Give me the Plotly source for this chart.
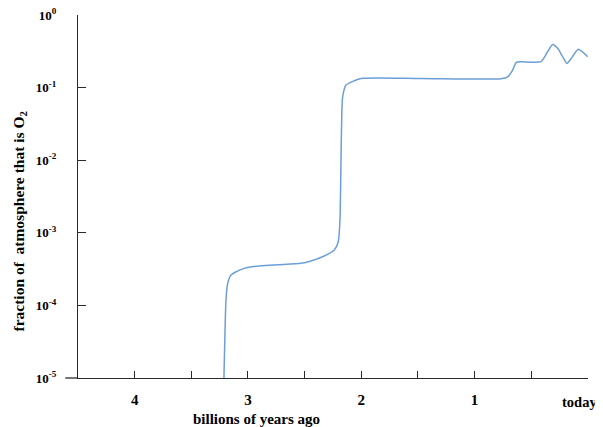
import plotly.graph_objects as go

# billions of years ago
age = [3.212, 3.203, 3.194, 3.179, 3.150, 3.121, 3.033, 2.885, 2.738, 2.532, 2.444,
       2.327, 2.238, 2.203, 2.188, 2.179, 2.171, 2.164, 2.135, 2.062, 2.003, 1.473,
       0.768, 0.708, 0.664, 0.632, 0.591, 0.415, 0.356, 0.311, 0.267, 0.223, 0.185,
       0.141, 0.085, 0.003]
# fraction of atmosphere that is O2
o2 = [1.0e-5, 4.13e-5, 1.19e-4, 2.01e-4, 2.62e-4, 2.82e-4, 3.24e-4, 3.52e-4, 3.64e-4,
      3.80e-4, 4.09e-4, 4.79e-4, 5.79e-4, 7.53e-4, 1.50e-3, 1.01e-2, 4.91e-2, 7.50e-2,
      0.1086, 0.1245, 0.134, 0.134, 0.133, 0.141, 0.175, 0.223, 0.228, 0.228, 0.312,
      0.393, 0.348, 0.267, 0.216, 0.260, 0.337, 0.267]

x_tickvals = [4, 3, 2, 1]
x_ticktext = ["4", "3", "2", "1"]
today_label = "today"
y_tickvals = [1, 1e-1, 1e-2, 1e-3, 1e-4, 1e-5]
y_ticktext = ["10<sup>0</sup>", "10<sup>-1</sup>", "10<sup>-2</sup>", "10<sup>-3</sup>",
              "10<sup>-4</sup>", "10<sup>-5</sup>"]

FONT = "Liberation Serif"
AX = "#2b2b2b"

fig = go.Figure()
fig.add_trace(go.Scatter(x=age, y=o2, mode="lines",
                         line=dict(color="#6c9fd8", width=1.5, shape="spline", smoothing=0.6),
                         showlegend=False, hoverinfo="skip"))

fig.update_layout(
    width=595, height=419,
    margin=dict(l=70, r=15, t=7, b=49, autoexpand=False),
    paper_bgcolor="white", plot_bgcolor="white",
    font=dict(family=FONT, color="black"),
    xaxis=dict(range=[4.5, -0.001], tickvals=x_tickvals, ticktext=x_ticktext,
               ticks="inside", ticklen=7, tickcolor=AX, tickwidth=1.2,
               minor=dict(tick0=0, dtick=0.5, ticks="inside", ticklen=7,
                          tickcolor=AX, tickwidth=1.2, showgrid=False),
               showline=True, linecolor=AX, linewidth=1.3, showgrid=False, zeroline=False,
               automargin=False, ticklabeloverflow="allow",
               tickfont=dict(family=FONT, size=15, color="black", weight="bold"),
               ticklabelstandoff=8),
    yaxis=dict(type="log", range=[-5, 0.001], tickvals=y_tickvals, ticktext=y_ticktext,
               ticks="inside", ticklen=8, tickcolor=AX, tickwidth=1.2,
               showline=True, linecolor=AX, linewidth=1.3, showgrid=False, zeroline=False,
               automargin=False, ticklabeloverflow="allow",
               tickfont=dict(family=FONT, size=13, color="black", weight="bold"),
               ticklabelstandoff=18),
)

# x-axis line extends slightly left of the y axis
fig.add_shape(type="line", xref="paper", yref="paper", x0=-0.025, x1=0, y0=0, y1=0,
              line=dict(color=AX, width=1.3))

fig.add_annotation(x=0, y=0, xref="x", yref="paper", text=today_label, showarrow=False,
                   xanchor="center", yanchor="top", xshift=-8, yshift=-14,
                   font=dict(family=FONT, size=14.5, color="black", weight="bold"))
fig.add_annotation(x=(256 - 78) / 510, y=-41 / 363, xref="paper", yref="paper",
                   text="billions of years ago", showarrow=False,
                   xanchor="center", yanchor="middle",
                   font=dict(family=FONT, size=15, color="black", weight="bold"))
fig.add_annotation(x=(19 - 78) / 510, y=(378 - 221.5) / 363, xref="paper", yref="paper",
                   text="fraction of  atmosphere that is O<sub>2</sub>", showarrow=False,
                   textangle=-90, xanchor="center", yanchor="middle",
                   font=dict(family=FONT, size=15.5, color="black", weight="bold"))

fig.write_html("out.html")
